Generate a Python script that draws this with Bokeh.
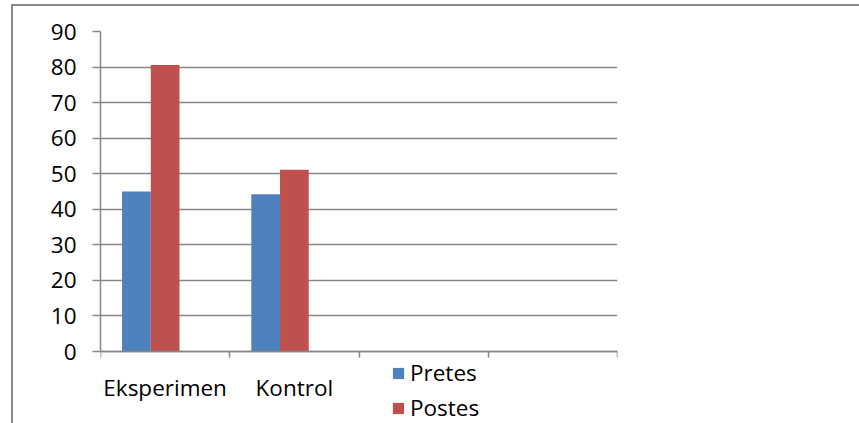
from bokeh.plotting import figure
from bokeh.models import (Range1d, FixedTicker, Legend, LegendItem,
                          ColumnDataSource, InlineStyleSheet)
from bokeh.embed import file_html
from bokeh.resources import INLINE

# ---- data ----
categories = ["Eksperimen", "Kontrol", "", ""]
series_names = ["Pretes", "Postes"]
pretes = [45.0, 44.2]
postes = [80.6, 51.1]
y_ticks = [0, 10, 20, 30, 40, 50, 60, 70, 80, 90]

colors = ["#4F81BD", "#C0504D"]
FONT = "Open Sans"
FS = "22.5px"
GRID = "#868686"

border_css = InlineStyleSheet(css="""
:host::after {
  content: "";
  position: absolute;
  left: 11px;
  top: 4px;
  width: 900px;
  height: 500px;
  border: 2px solid #898989;
  pointer-events: none;
  box-sizing: border-box;
}
""")

H, TOP, AXIS_Y = 423, 31, 351          # canvas height, frame top, y=0 position (px)
ymax = y_ticks[-1]
ymin = -ymax * (H - AXIS_Y) / (AXIS_Y - TOP)   # extend frame below zero for the legend

p = figure(width=859, height=H, output_backend="svg", toolbar_location=None,
           x_range=Range1d(0, len(categories)), y_range=Range1d(ymin, ymax),
           stylesheets=[border_css])
p.min_border_left = 100
p.min_border_right = 242
p.min_border_top = TOP
p.min_border_bottom = 0
p.outline_line_color = None
p.background_fill_color = "white"
p.border_fill_color = "white"

# bars: 3 slots per category (third empty), gap 150%
w = 1.0 / 4.5
idx = list(range(len(pretes)))
src = ColumnDataSource(dict(
    x_pre=[i + 0.5 - w for i in idx],
    x_post=[i + 0.5 for i in idx],
    pre=pretes, post=postes))
r1 = p.vbar(x="x_pre", top="pre", bottom=0, width=w, source=src,
            fill_color=colors[0], line_color=None)
r2 = p.vbar(x="x_post", top="post", bottom=0, width=w, source=src,
            fill_color=colors[1], line_color=None)

# x axis at y = 0
xa = p.xaxis[0]
xa.fixed_location = 0
xa.ticker = FixedTicker(ticks=[i + 0.5 for i in range(len(categories))],
                        minor_ticks=list(range(len(categories) + 1)))
xa.major_label_overrides = {i + 0.5: c for i, c in enumerate(categories)}
xa.major_tick_in = 0
xa.major_tick_out = 0
xa.minor_tick_in = 0
xa.minor_tick_out = 6
xa.minor_tick_line_color = GRID
xa.minor_tick_line_width = 1.5
xa.axis_line_color = GRID
xa.axis_line_width = 1.5
xa.major_label_text_font = FONT
xa.major_label_text_font_size = FS
xa.major_label_text_color = "black"
xa.major_label_standoff = 14

# y axis (line only from 0 to max)
ya = p.yaxis[0]
ya.bounds = (0, ymax)
ya.ticker = FixedTicker(ticks=y_ticks, minor_ticks=[])
ya.major_tick_in = 0
ya.major_tick_out = 8
ya.major_tick_line_color = GRID
ya.major_tick_line_width = 1.5
ya.axis_line_color = GRID
ya.axis_line_width = 1.5
ya.major_label_text_font = FONT
ya.major_label_text_font_size = FS
ya.major_label_text_color = "black"
ya.major_label_standoff = 16

p.xgrid.grid_line_color = None
p.ygrid.ticker = FixedTicker(ticks=y_ticks)
p.ygrid.grid_line_color = GRID
p.ygrid.grid_line_width = 1.5

legend = Legend(items=[LegendItem(label=series_names[0], renderers=[r1]),
                       LegendItem(label=series_names[1], renderers=[r2])],
                location=(291, 0), orientation="vertical",
                glyph_width=14, glyph_height=14, label_standoff=5, spacing=4,
                padding=0, margin=0, border_line_color=None,
                background_fill_alpha=0,
                label_text_font=FONT, label_text_font_size=FS,
                label_text_color="black")
p.add_layout(legend, "center")

open("out.html", "w").write(file_html(p, INLINE))
